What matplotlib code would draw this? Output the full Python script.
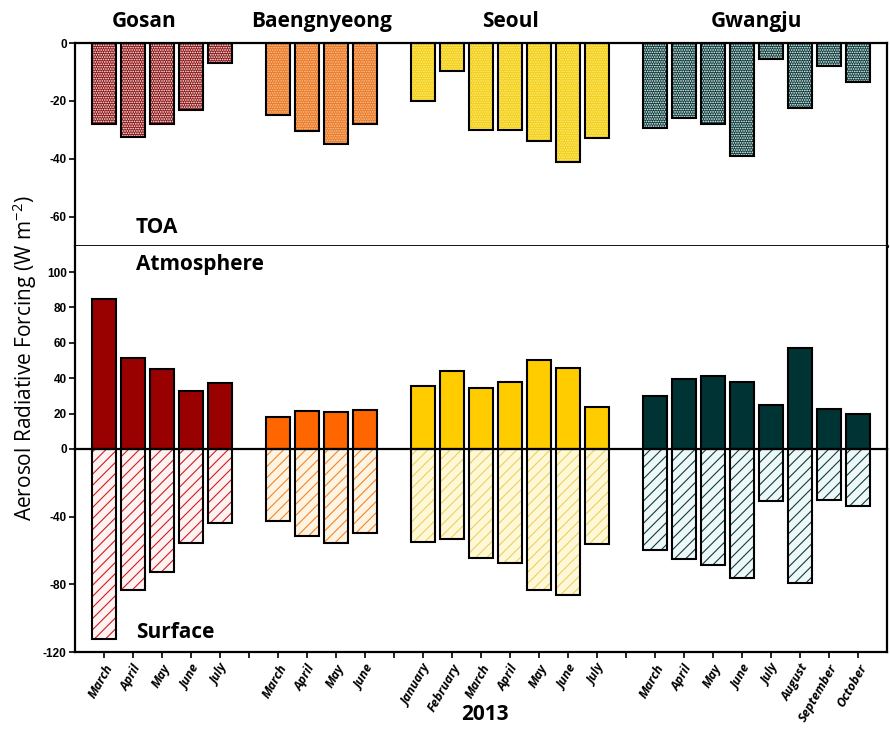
import numpy as np
import matplotlib
matplotlib.use('Agg')
import matplotlib.pyplot as plt
from matplotlib import transforms

# ===== DATA

stations = ['Gosan', 'Baengnyeong', 'Seoul', 'Gwangju']
months = [
    ['March', 'April', 'May', 'June', 'July'],
    ['March', 'April', 'May', 'June'],
    ['January', 'February', 'March', 'April', 'May', 'June', 'July'],
    ['March', 'April', 'May', 'June', 'July', 'August', 'September', 'October'],
]
toa = [
    [-28, -32.5, -28, -23, -7],
    [-25, -30.5, -35, -28],
    [-20, -9.5, -30, -30, -34, -41, -33],
    [-29.5, -26, -28, -39, -5.5, -22.5, -8, -13.5],
]
atm = [
    [85, 51.5, 45, 33, 37.5],
    [18, 21.5, 21, 22],
    [35.5, 44, 34.5, 38, 50.5, 46, 24],
    [30, 39.5, 41, 38, 25, 57, 22.5, 20],
]
sfc = [
    [-112.5, -83.5, -72.5, -55.5, -44],
    [-42.5, -51.5, -55.5, -49.5],
    [-55, -53, -64.5, -67.5, -83.5, -86.5, -56],
    [-59.5, -65, -68.5, -76, -30.5, -79, -30, -33.5],
]
year = '2013'

# colours per station: toa face, toa dots, atmosphere, surface face, surface hatch
toa_face = ['#8e1414', '#e8782a', '#f2cc1c', '#0b3c3c']
toa_dots = ['#ffffff', '#ffc890', '#fff27a', '#ffffff']
atm_col = ['#990000', '#ff6600', '#ffcc00', '#003333']
sfc_face = ['#fff2f2', '#fff3e2', '#fff8d6', '#eef8f8']
sfc_hatch = ['#cc1f1f', '#f0862e', '#ecd060', '#0f3d3d']

# ===== LAYOUT

plt.rcParams['hatch.linewidth'] = 0.8
W = 0.82
TICKFONT = dict(family='Liberation Sans', weight='bold', size=8.5)
BOLD = dict(family=['Open Sans', 'DejaVu Sans'], weight='bold')

pos = []
start = 0
for m in months:
    pos.append(np.arange(start, start + len(m)))
    start += len(m) + 1
xmax = start - 1

fig = plt.figure(figsize=(8.9, 7.38), dpi=100)
left, width = 0.0843, 0.9123
ax_toa = fig.add_axes([left, 0.6673, width, 0.2744])
ax_atm = fig.add_axes([left, 0.3916, width, 0.2757])
ax_sfc = fig.add_axes([left, 0.1165, width, 0.2751])


def plain_bar(ax, x, y, face):
    ax.bar(x, y, width=W, color=face, edgecolor='black', linewidth=1.5, zorder=3)


def hatched_bar(ax, x, y, face, hatch, hcolor):
    # fill + pattern first, black outline on top
    ax.bar(x, y, width=W, color=face, hatch=hatch, edgecolor=hcolor,
           linewidth=0, zorder=2)
    ax.bar(x, y, width=W, fill=False, edgecolor='black', linewidth=1.5, zorder=3)


for i in range(len(stations)):
    hatched_bar(ax_toa, pos[i], toa[i], toa_face[i], '.......', toa_dots[i])
    plain_bar(ax_atm, pos[i], atm[i], atm_col[i])
    hatched_bar(ax_sfc, pos[i], sfc[i], sfc_face[i], '///', sfc_hatch[i])

for ax in (ax_toa, ax_atm, ax_sfc):
    ax.set_xlim(-1, xmax)
    for s in ax.spines.values():
        s.set_linewidth(1.6)
    ax.tick_params(axis='y', direction='out', length=4, width=1.2, pad=2)

ax_toa.spines['bottom'].set_linewidth(2)

ax_toa.set_ylim(-70, 0)
ax_toa.set_yticks([0, -20, -40, -60])
ax_toa.set_yticklabels(['0', '-20', '-40', '-60'], **TICKFONT)
ax_toa.set_xticks([])

ax_atm.set_ylim(0, 115)
ax_atm.set_yticks([0, 20, 40, 60, 80, 100])
ax_atm.set_yticklabels(['0', '20', '40', '60', '80', '100'], **TICKFONT)
ax_atm.set_xticks([])
ax_atm.spines['top'].set_visible(False)
ax_atm.spines['bottom'].set_visible(False)

ax_sfc.set_ylim(-120, 0)
ax_sfc.set_yticks([-40, -80, -120])
ax_sfc.set_yticklabels(['-40', '-80', '-120'], **TICKFONT)

ticklabels = [''] * xmax
for i in range(len(stations)):
    for p, m in zip(pos[i], months[i]):
        ticklabels[p] = m
ax_sfc.set_xticks(range(xmax))
ax_sfc.set_xticklabels(ticklabels, rotation=60, ha='right', rotation_mode='anchor',
                       family=['Open Sans', 'DejaVu Sans'], style='italic',
                       weight='bold', size=9)
ax_sfc.tick_params(axis='x', direction='out', length=4, width=1.2, pad=3)

# station names above the top panel
label_x = [1.4, 7.5, 14, 22.5]
trans = transforms.blended_transform_factory(ax_toa.transData, ax_toa.transAxes)
for name, lx in zip(stations, label_x):
    ax_toa.text(lx, 1.105, name, transform=trans, ha='center', va='center',
                size=15, **BOLD)

ax_toa.text(1.1, 0.09, 'TOA', transform=trans, ha='left', va='center', size=15, **BOLD)
trans_atm = transforms.blended_transform_factory(ax_atm.transData, ax_atm.transAxes)
ax_atm.text(1.1, 0.905, 'Atmosphere', transform=trans_atm, ha='left', va='center',
            size=15, **BOLD)
trans_sfc = transforms.blended_transform_factory(ax_sfc.transData, ax_sfc.transAxes)
ax_sfc.text(1.1, 0.095, 'Surface', transform=trans_sfc, ha='left', va='center',
            size=15, **BOLD)

fig.text(0.028, 0.515, 'Aerosol Radiative Forcing (W m$^{\\mathregular{-2}}$)',
         rotation=90, ha='center', va='center', size=15,
         family=['Open Sans', 'DejaVu Sans'])
fig.text(0.545, 0.032, year, ha='center', va='center', size=15, **BOLD)

fig.savefig('out.png', dpi=100)
